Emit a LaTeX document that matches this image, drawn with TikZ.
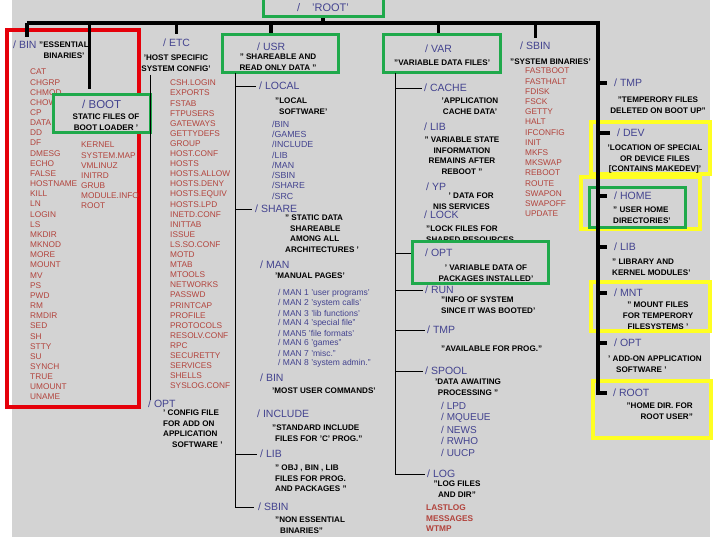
\documentclass[tikz,border=0pt]{standalone}
\usepackage{fontspec}
\setmainfont{Liberation Sans}
\usepackage{tikz}
\usetikzlibrary{positioning}
\definecolor{panel}{HTML}{D3D3D3}
\definecolor{dirblue}{HTML}{43438F}
\definecolor{filered}{HTML}{B2433C}
\definecolor{boxgreen}{HTML}{1FA94B}
\definecolor{boxyellow}{HTML}{FFFF22}
\definecolor{boxred}{HTML}{E5000A}

\begin{document}
\begin{tikzpicture}[x=1pt, y=-1pt,
    dir/.style={text=dirblue, font=\fontsize{10.5}{12}\selectfont, inner sep=0pt, anchor=west},
    subdir/.style={text=dirblue, font=\fontsize{8.8}{10}\selectfont, inner sep=0pt, anchor=west},
    file/.style={text=filered, font=\fontsize{8.3}{10}\selectfont, inner sep=0pt, anchor=west},
    note/.style={font=\fontsize{8.1}{10.5}\selectfont\bfseries, inner sep=0pt, align=center},
    frame/.style={draw, line width=3pt, inner sep=0pt},
    bar/.style={line width=3.5pt},
    twig/.style={line width=0.9pt}]
  \useasboundingbox (0,0) rectangle (720,540);
  \fill[panel] (12,0) rectangle (710,537);

  \node[frame, draw=boxgreen, minimum width=120, minimum height=18] (root) at (323,8) {};
  \node[dir, anchor=center, font=\fontsize{11}{12}\selectfont] (rootlbl) at (root) {/\hspace{12pt}'ROOT'};
  \coordinate (barL) at (27,23);
  \coordinate (barR) at (598,23);

  % /bin
  \node[frame, draw=boxred, line width=4pt, minimum width=132, minimum height=377] (binbox) at (73,218.5) {};
  \node[dir] (bin) at (13,45) {/ BIN};
  \node[note, anchor=north] (binnote) at (64,42) {"ESSENTIAL\\BINARIES'};
  \foreach \f [count=\i] in {CAT,CHGRP,CHMOD,CHOWN,CP,DATA,DD,DF,DMESG,ECHO,FALSE,HOSTNAME,KILL,LN,LOGIN,LS,MKDIR,MKNOD,MORE,MOUNT,MV,PS,PWD,RM,RMDIR,SED,SH,STTY,SU,SYNCH,TRUE,UMOUNT,UNAME}
    \node[file] (bin-\i) at (30,{72+(\i-1)*10.16}) {\f};

  % /boot
  \node[frame, draw=boxgreen, fill=panel, minimum width=97, minimum height=38] (bootbox) at (101.5,114) {};
  \node[dir, font=\fontsize{11.5}{13}\selectfont] (boot) at (82,104) {/ BOOT};
  \node[note, anchor=north] (bootnote) at (106,114) {STATIC FILES OF\\BOOT LOADER '};
  \foreach \f [count=\i] in {KERNEL,SYSTEM.MAP,VMLINUZ,INITRD,GRUB,MODULE.INFO,ROOT}
    \node[file] (boot-\i) at (81,{145+(\i-1)*10.16}) {\f};

  % /etc
  \node[dir] (etc) at (163,43) {/ ETC};
  \node[note, anchor=north] (etcnote) at (176,55) {'HOST SPECIFIC\\SYSTEM CONFIG'};
  \foreach \f [count=\i] in {CSH.LOGIN,EXPORTS,FSTAB,FTPUSERS,GATEWAYS,GETTYDEFS,GROUP,HOST.CONF,HOSTS,HOSTS.ALLOW,HOSTS.DENY,HOSTS.EQUIV,HOSTS.LPD,INETD.CONF,INITTAB,ISSUE,LS.SO.CONF,MOTD,MTAB,MTOOLS,NETWORKS,PASSWD,PRINTCAP,PROFILE,PROTOCOLS,RESOLV.CONF,RPC,SECURETTY,SERVICES,SHELLS,SYSLOG.CONF}
    \node[file] (etc-\i) at (170,{83+(\i-1)*10.1}) {\f};
  \node[dir] (etcopt) at (148,404) {/ OPT};
  \node[note, anchor=north west, align=left] (etcoptnote) at (163,410) {' CONFIG FILE\\FOR ADD ON\\APPLICATION\\\hspace*{9pt}SOFTWARE '};
  \coordinate (etc-top) at (150,75);
  \draw[twig] (etc-top) -- (etc-top |- etcopt.north);

  % /usr
  \node[frame, draw=boxgreen, minimum width=116, minimum height=38] (usrbox) at (280,54) {};
  \node[dir] (usr) at (257,47) {/ USR};
  \node[note, anchor=north] (usrnote) at (278,54) {" SHAREABLE AND\\READ ONLY DATA "};
  \node[dir] (local) at (259,86) {/ LOCAL};
  \node[note, anchor=north west, align=left] (localnote) at (275,98) {"LOCAL\\\hspace*{4pt}SOFTWARE'};
  \foreach \f [count=\i] in {/BIN,/GAMES,/INCLUDE,/LIB,/MAN,/SBIN,/SHARE,/SRC}
    \node[subdir] (loc-\i) at (272,{124+(\i-1)*10.3}) {\f};
  \node[dir] (share) at (255,209) {/ SHARE};
  \node[note, anchor=north west, align=left] (sharenote) at (285,215) {" STATIC DATA\\\hspace*{5pt}SHAREABLE\\\hspace*{5pt}AMONG ALL\\ARCHITECTURES '};
  \node[dir] (man) at (260,265) {/ MAN};
  \node[note, anchor=west] (mannote) at (275,276) {'MANUAL PAGES'};
  \foreach \f [count=\i] in {/ MAN 1 'user programs',/ MAN 2 'system calls',/ MAN 3 'lib functions',/ MAN 4 'special file",/ MAN5 'file formats',/ MAN 6 'games",/ MAN 7 'misc.",/ MAN 8 'system admin."}
    \node[subdir, font=\fontsize{8.5}{10}\selectfont] (man-\i) at (278,{293+(\i-1)*10}) {\f};
  \node[dir] (usrbin) at (260,378) {/ BIN};
  \node[note, anchor=west] (usrbinnote) at (272,391) {'MOST USER COMMANDS'};
  \node[dir] (include) at (257,414) {/ INCLUDE};
  \node[note, anchor=north west, align=left] (includenote) at (272,425) {"STANDARD INCLUDE\\\hspace*{3pt}FILES FOR 'C' PROG."};
  \node[dir] (usrlib) at (260,454) {/ LIB};
  \node[note, anchor=north west, align=left] (usrlibnote) at (275,465) {" OBJ , BIN , LIB\\FILES FOR PROG.\\AND PACKAGES "};
  \node[dir] (usrsbin) at (258,507) {/ SBIN};
  \node[note, anchor=north west, align=left] (usrsbinnote) at (275,517) {"NON ESSENTIAL\\\hspace*{5pt}BINARIES"};
  \coordinate (usr-top) at (235,73);
  \draw[twig] (usr-top) -- (usr-top |- usrsbin.west) -- ([xshift=-4pt]usrsbin.west);
  \foreach \n in {local,share,usrlib}
    \draw[twig] (usr-top |- \n.west) -- ([xshift=-3pt]\n.west);

  % /var
  \node[frame, draw=boxgreen, minimum width=117, minimum height=38] (varbox) at (441.5,54) {};
  \node[dir] (var) at (425,49) {/ VAR};
  \node[note, anchor=west] (varnote) at (394,63) {"VARIABLE DATA FILES'};
  \node[dir] (cache) at (424,88) {/ CACHE};
  \node[note, anchor=north] (cachenote) at (470,98) {'APPLICATION\\CACHE DATA'};
  \node[dir] (varlib) at (424,127) {/ LIB};
  \node[note, anchor=north] (varlibnote) at (462,137) {" VARIABLE STATE\\INFORMATION\\REMAINS AFTER\\REBOOT "};
  \node[dir] (yp) at (426,187) {/ YP};
  \node[note, anchor=north east, align=right] (ypnote) at (494,193) {' DATA FOR\\NIS SERVICES\hspace*{4pt}};
  \node[dir] (lock) at (424,215) {/ LOCK};
  \node[note, anchor=north west, align=left] (locknote) at (426,226) {"LOCK FILES FOR\\SHARED RESOURCES};
  \node[frame, draw=boxgreen, minimum width=136, minimum height=42] (varoptbox) at (480,262) {};
  \node[dir] (varopt) at (425,253) {/ OPT};
  \node[note, anchor=north] (varoptnote) at (486,265) {' VARIABLE DATA OF\\PACKAGES INSTALLED'};
  \node[dir] (run) at (425,290) {/ RUN};
  \node[note, anchor=north west, align=left] (runnote) at (441,297) {"INFO OF SYSTEM\\SINCE IT WAS BOOTED'};
  \node[dir] (vartmp) at (427,330) {/ TMP};
  \node[note, anchor=west] (vartmpnote) at (441,349) {"AVAILABLE FOR PROG."};
  \node[dir] (spool) at (425,371) {/ SPOOL};
  \node[note, anchor=north] (spoolnote) at (468,379) {'DATA AWAITING\\PROCESSING "};
  \foreach \f [count=\i] in {/ LPD,/ MQUEUE,/ NEWS,/ RWHO,/ UUCP}
    \node[dir, font=\fontsize{10}{11}\selectfont] (spool-\i) at (441,{406+(\i-1)*11.8}) {\f};
  \node[dir] (log) at (427,474) {/ LOG};
  \node[note, anchor=north] (lognote) at (457,481) {"LOG FILES\\AND DIR"};
  \foreach \f [count=\i] in {LASTLOG,MESSAGES,WTMP}
    \node[file, font=\fontsize{8.3}{10}\selectfont\bfseries] (log-\i) at (426,{508+(\i-1)*10.5}) {\f};
  \coordinate (var-top) at (395,73);
  \draw[twig] (var-top) -- (var-top |- log.west) -- ([xshift=-2pt]log.west);
  \foreach \n in {cache,run,vartmp,spool}
    \draw[twig] (var-top |- \n.west) -- ([xshift=-2pt]\n.west);
  \draw[twig] (var-top |- varopt.west) -- (varoptbox.west |- varopt.west);

  % /sbin
  \node[dir] (sbin) at (520,46) {/ SBIN};
  \node[note, anchor=west] (sbinnote) at (510,62) {"SYSTEM BINARIES'};
  \foreach \f [count=\i] in {FASTBOOT,FASTHALT,FDISK,FSCK,GETTY,HALT,IFCONFIG,INIT,MKFS,MKSWAP,REBOOT,ROUTE,SWAPON,SWAPOFF,UPDATE}
    \node[file] (sbin-\i) at (525,{71+(\i-1)*10.2}) {\f};

  % right column
  \node[dir] (tmp) at (614,83) {/ TMP};
  \node[note, anchor=north] (tmpnote) at (658,97) {"TEMPERORY FILES\\DELETED ON BOOT UP"};
  \node[frame, draw=boxyellow, line width=4pt, minimum width=119, minimum height=52] (devbox) at (650.5,148) {};
  \node[dir] (dev) at (617,133) {/ DEV};
  \node[note, anchor=north] (devnote) at (655,145) {'LOCATION OF SPECIAL\\OR DEVICE FILES\\{[CONTAINS MAKEDEV]'}};
  \node[frame, draw=boxyellow, line width=4pt, minimum width=119, minimum height=52] (homeybox) at (640.5,203) {};
  \node[frame, draw=boxgreen, minimum width=96, minimum height=40] (homegbox) at (637,208) {};
  \node[dir] (home) at (614,196) {/ HOME};
  \node[note, anchor=north west, align=left] (homenote) at (613,207) {" USER HOME\\DIRECTORIES'};
  \node[dir] (rlib) at (614,247) {/ LIB};
  \node[note, anchor=north west, align=left] (rlibnote) at (612,259) {" LIBRARY AND\\KERNEL MODULES'};
  \node[frame, draw=boxyellow, line width=4pt, minimum width=119, minimum height=49] (mntbox) at (650.5,306.5) {};
  \node[dir] (mnt) at (614,293) {/ MNT};
  \node[note, anchor=north, font=\fontsize{8.1}{11}\selectfont\bfseries] (mntnote) at (658,302) {" MOUNT FILES\\FOR TEMPERORY\\FILESYSTEMS '};
  \node[dir] (ropt) at (614,343) {/ OPT};
  \node[note, anchor=north west, align=left] (roptnote) at (608,356) {' ADD-ON APPLICATION\\\hspace*{8pt}SOFTWARE '};
  \node[frame, draw=boxyellow, line width=4pt, minimum width=118, minimum height=57] (rootbox) at (652,409.5) {};
  \node[dir] (rootdir) at (613,393) {/ ROOT};
  \node[note, anchor=north east, align=right] (rootnote) at (693,403) {"HOME DIR. FOR\\ROOT USER"};

  % trunk and drops
  \draw[bar] (barL) -- (barR) -- (barR |- rootdir.west) -- ([xshift=-6pt]rootdir.west);
  \foreach \n in {tmp,dev,home,rlib,mnt,ropt}
    \draw[bar] (barR |- \n.west) -- ([xshift=-7pt]\n.west);
  \draw[bar] (barL) -- ([yshift=4pt]bin.north -| barL);
  \draw[bar] ([xshift=-12pt]bootbox.north |- barL) -- ([xshift=-12pt, yshift=4pt]bootbox.north);
  \draw[bar] (etc.north |- barL) -- ([yshift=5pt]etc.north);
  \draw[bar] (root.south) -- (root.south |- barL);
  \draw[bar] (usr.north |- barL) -- (usr.north |- usrbox.north);
  \draw[bar] (var.north |- barL) -- (var.north |- varbox.north);
  \draw[bar] (sbin.north |- barL) -- ([yshift=4pt]sbin.north);
\end{tikzpicture}
\end{document}
